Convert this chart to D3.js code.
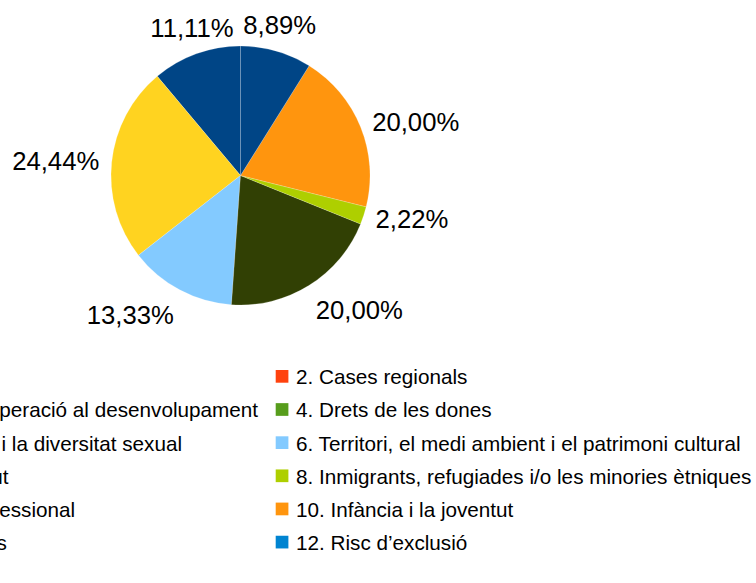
<!DOCTYPE html>
<html>
<head>
<meta charset="utf-8">
<script src="https://cdn.jsdelivr.net/npm/d3@7/dist/d3.min.js"></script>
<style>
	body { margin: 0; background: #ffffff; }
	svg { display: block; font-family: 'Liberation Sans', Arial, sans-serif; }
</style>
</head>
<body>
<div id="divChart"></div>
<script>
'use strict';

const width = 756;
const height = 583;

// categories in data order (pie is drawn counterclockwise from 12 o'clock)
const categories = [
	'1. Oci',
	'2. Cases regionals',
	'3. Cooperació al desenvolupament',
	'4. Drets de les dones',
	'5. VIH i la diversitat sexual',
	'6. Territori, el medi ambient i el patrimoni cultural',
	'7. Salut',
	'8. Inmigrants, refugiades i/o les minories ètniques',
	'9. Professional',
	'10. Infància i la joventut',
	'11. Arts',
	'12. Risc d’exclusió',
	'13. Altres'
];
const counts = [5, 0, 11, 0, 0, 6, 9, 1, 0, 9, 0, 0, 4];
const palette = ['#004586', '#ff420e', '#ffd320', '#579d1c', '#7e0021', '#83caff',
	'#314004', '#aecf00', '#4b1f6f', '#ff950e', '#c5000b', '#0084d1'];

const centerX = 240.5;
const centerY = 175.5;
const radius = 129.5;
const labelRadius = 142;
const labelFontSize = 25.7;
const legendFontSize = 20.7;

const total = d3.sum(counts);
const locale = d3.formatLocale({decimal: ',', thousands: '.', grouping: [3], currency: ['', ' €'], percent: '%'});
const formatPercent = locale.format('.2%');

const color = d3.scaleOrdinal()
	.domain(d3.range(categories.length))
	.range(palette);

const svg = d3.select('#divChart')
	.append('svg')
	.attr('width', width)
	.attr('height', height)
	.attr('viewBox', [0, 0, width, height]);

const pie = d3.pie()
	.sort(null)
	.value(d => d.value)
	.startAngle(0)
	.endAngle(-2 * Math.PI);

const slices = pie(counts.map((value, i) => ({index: i, value: value})))
	.filter(d => d.data.value > 0);

const arc = d3.arc()
	.innerRadius(0)
	.outerRadius(radius);

const gPie = svg.append('g')
	.attr('transform', `translate(${centerX},${centerY})`);

gPie.selectAll('path')
	.data(slices)
	.join('path')
	.attr('d', arc)
	.attr('fill', d => color(d.data.index))
	.attr('stroke', '#ffffff')
	.attr('stroke-opacity', 0.3)
	.attr('stroke-width', 0.6);

// label alignment like the office suite: depends on the direction of the slice middle
const ascent = 0.905 * labelFontSize;
const descent = 0.212 * labelFontSize;
function labelPlacement(d) {
	const a = (d.startAngle + d.endAngle) / 2;
	const px = labelRadius * Math.sin(a);
	const py = -labelRadius * Math.cos(a);
	let deg = (90 - a * 180 / Math.PI) % 360;
	if (deg < 0) deg += 360;
	let anchor = 'middle';
	let baseline = py + (ascent - descent) / 2;
	if (deg <= 22.5 || deg >= 337.5) {
		anchor = 'start';
	} else if (deg < 67.5) {
		anchor = 'start'; baseline = py - descent;
	} else if (deg < 112.5) {
		anchor = 'middle'; baseline = py - descent;
	} else if (deg <= 157.5) {
		anchor = 'end'; baseline = py - descent;
	} else if (deg <= 202.5) {
		anchor = 'end';
	} else if (deg < 247.5) {
		anchor = 'end'; baseline = py + ascent;
	} else if (deg < 292.5) {
		anchor = 'middle'; baseline = py + ascent;
	} else {
		anchor = 'start'; baseline = py + ascent;
	}
	return {x: px, y: baseline, anchor: anchor};
}

gPie.selectAll('text')
	.data(slices)
	.join('text')
	.each(function (d) {
		const p = labelPlacement(d);
		d3.select(this)
			.attr('x', p.x)
			.attr('y', p.y)
			.attr('text-anchor', p.anchor);
	})
	.attr('font-size', labelFontSize)
	.attr('fill', '#000000')
	.text(d => formatPercent(d.data.value / total));

// legend: two columns, filled row by row, rows that do not fit are dropped
const legendTop = 370;
const rowHeight = 33.15;
const squareSize = 12.7;
const textOffset = 20.3;
const rightColumnX = 275.7;
const columnGap = 17.7;

const legendItems = categories
	.map((name, i) => ({name: name, index: i, row: Math.floor(i / 2), column: i % 2}))
	.filter(d => legendTop + d.row * rowHeight + squareSize + 6 <= height);

const gLegend = svg.append('g')
	.attr('font-size', legendFontSize);

const measure = gLegend.append('text').attr('visibility', 'hidden');
function textWidth(s) {
	measure.text(s);
	return measure.node().getComputedTextLength();
}
const leftWidth = d3.max(legendItems.filter(d => d.column == 0), d => textWidth(d.name));
measure.remove();
const leftColumnX = rightColumnX - columnGap - leftWidth - textOffset;

const item = gLegend.selectAll('g')
	.data(legendItems)
	.join('g')
	.attr('transform', d => `translate(${d.column == 0 ? leftColumnX : rightColumnX},${legendTop + d.row * rowHeight})`);

item.append('rect')
	.attr('width', squareSize)
	.attr('height', squareSize)
	.attr('fill', d => color(d.index));

item.append('text')
	.attr('x', textOffset)
	.attr('y', 14.3)
	.attr('fill', '#000000')
	.text(d => d.name);
</script>
</body>
</html>
